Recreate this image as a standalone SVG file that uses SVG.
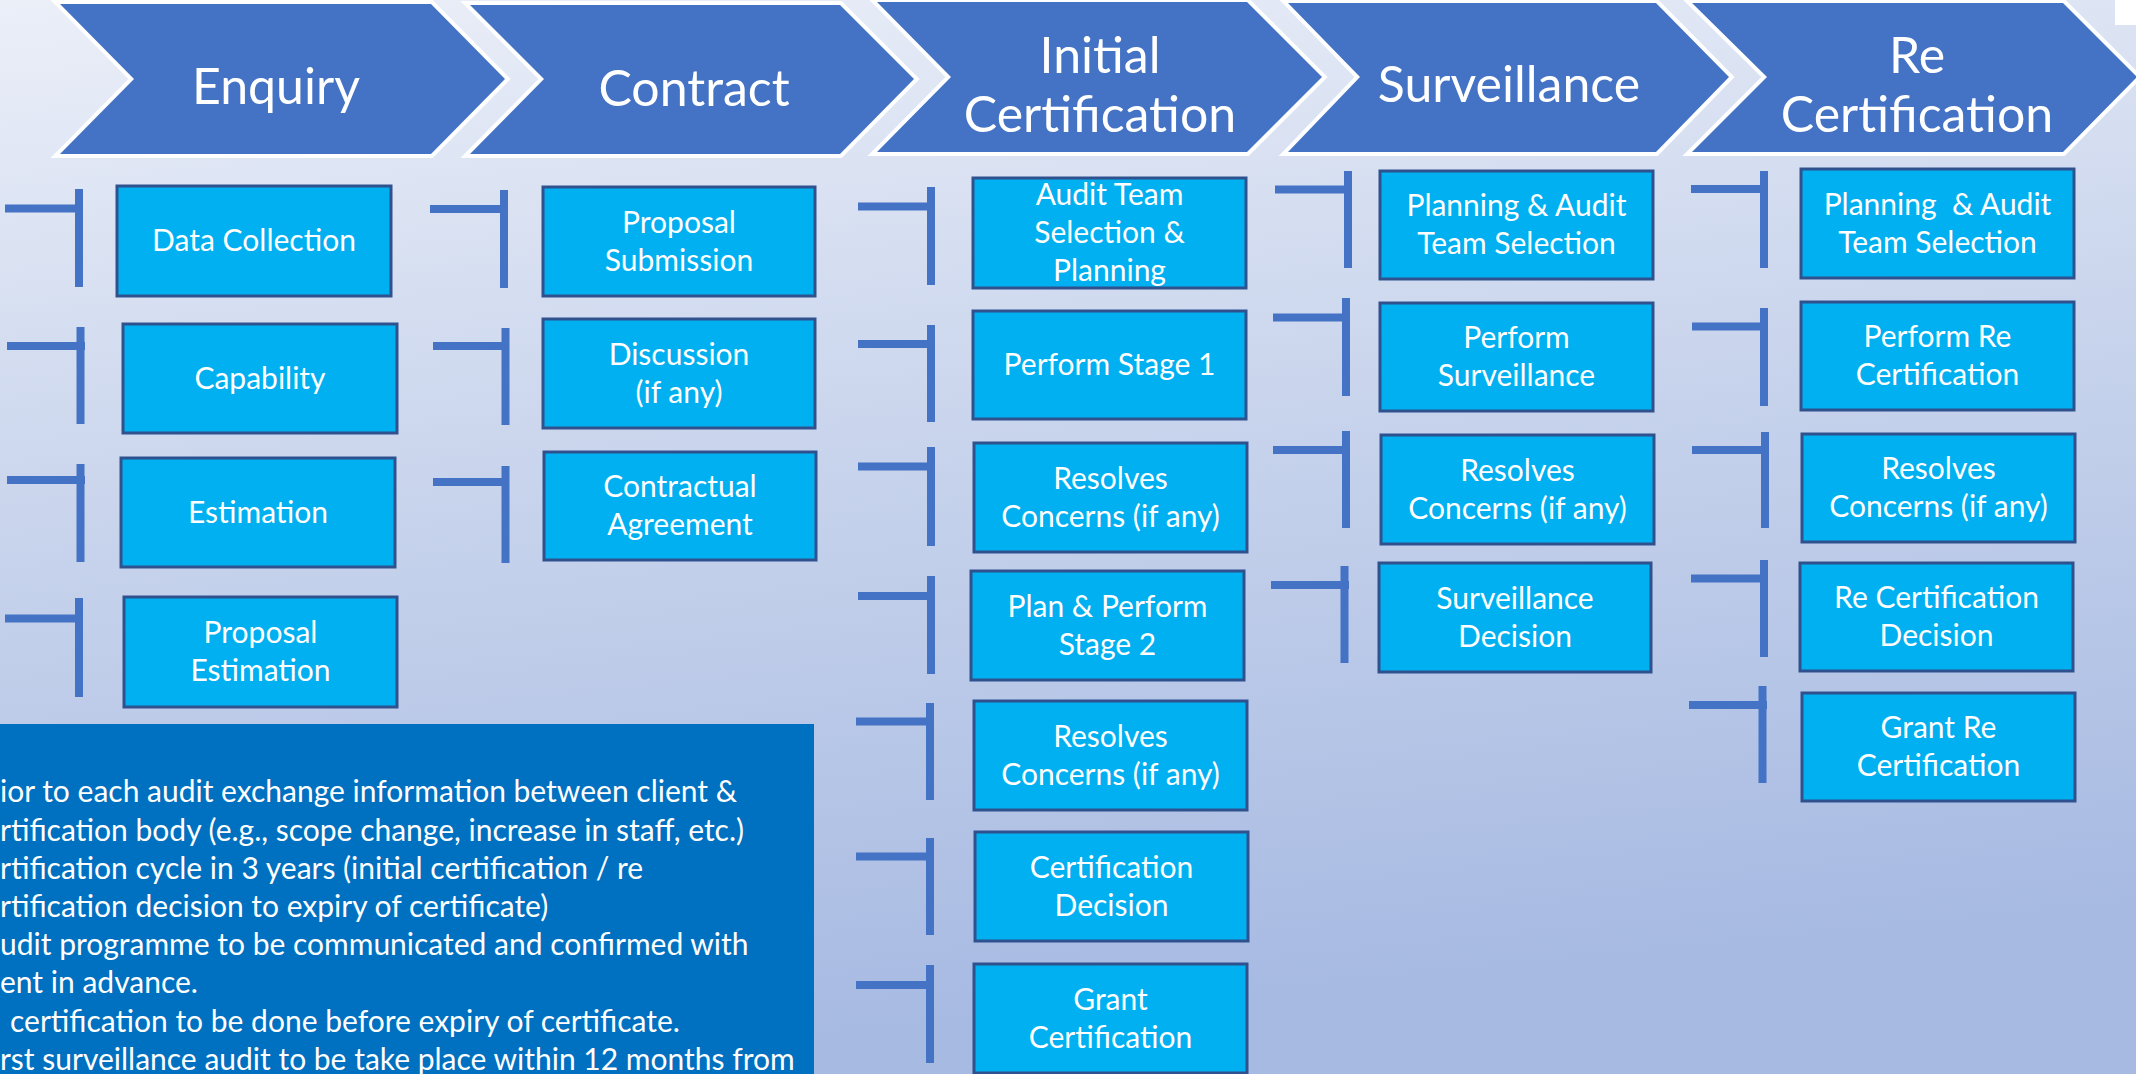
<svg xmlns="http://www.w3.org/2000/svg" width="2136" height="1074" viewBox="0 0 2136 1074">
<defs>
<linearGradient id="bg" x1="0" y1="0" x2="0.2" y2="1">
<stop offset="0" stop-color="#EBEFF8"/>
<stop offset="0.5" stop-color="#C7D3EC"/>
<stop offset="1" stop-color="#A7BAE2"/>
</linearGradient>
<style>
.chev{fill:#4472C4;stroke:#FFFFFF;stroke-width:8;stroke-linejoin:miter;paint-order:stroke}
.box{fill:#00B0F0;stroke:#2F528F;stroke-width:3}
.title{font-family:Lato,"Liberation Sans",sans-serif;font-size:50px;fill:#FFFFFF;text-anchor:middle}
.lbl{font-family:Lato,"Liberation Sans",sans-serif;font-size:30px;fill:#FFFFFF;text-anchor:middle}
.note{font-family:Lato,"Liberation Sans",sans-serif;font-size:30px;fill:#FFFFFF}
.br{stroke:#4472C4;stroke-width:8;fill:none}
</style>
</defs>
<rect x="0" y="0" width="2136" height="1074" fill="url(#bg)"/>
<rect x="2115" y="0" width="21" height="25" fill="#FFFFFF"/>

<g id="stage-enquiry">
<polygon class="chev" points="60,4 431,4 505,79 431,154 60,154 134,79"/>
<text class="title" x="276" y="104">Enquiry</text>
</g>
<g id="stage-contract">
<polygon class="chev" points="470,5 840,5 914,79 840,154 470,154 544,79"/>
<text class="title" x="694" y="106">Contract</text>
</g>
<g id="stage-initial">
<polygon class="chev" points="877,2 1247,2 1322,77 1247,152 877,152 951,77"/>
<text class="title" x="1100" y="73">Initial</text>
<text class="title" x="1100" y="132">Certification</text>
</g>
<g id="stage-surveillance">
<polygon class="chev" points="1288,3 1656,3 1729,77 1656,152 1288,152 1360,77"/>
<text class="title" x="1509" y="102">Surveillance</text>
</g>
<g id="stage-recert">
<polygon class="chev" points="1692,3 2063,3 2137,77 2063,152 1692,152 1767,77"/>
<text class="title" x="1917" y="73">Re</text>
<text class="title" x="1917" y="132">Certification</text>
</g>

<g id="connectors">
<path class="br" d="M5 208.5H83M79 189V287"/>
<path class="br" d="M7 346H85M80.5 327V424"/>
<path class="br" d="M7 480H85M80.5 464V562"/>
<path class="br" d="M5 618.5H83M79 598V697"/>
<path class="br" d="M430 209H508M504 190V288"/>
<path class="br" d="M433 346H509M505.5 328V425"/>
<path class="br" d="M433 482H509M505.5 466V563"/>
<path class="br" d="M858 206.5H935M931 187V285"/>
<path class="br" d="M858 344H935M931 325V422"/>
<path class="br" d="M858 466.5H935M931 447V546"/>
<path class="br" d="M858 596H935M931 576V674"/>
<path class="br" d="M856 721.5H934M930 703V800"/>
<path class="br" d="M856 856.5H934M930 838V935"/>
<path class="br" d="M856 985H934M930 965V1063"/>
<path class="br" d="M1275 189.5H1352M1348 171V268"/>
<path class="br" d="M1273 317.5H1350M1346 298V396"/>
<path class="br" d="M1273 450H1350M1346 431V528"/>
<path class="br" d="M1271 585H1349M1344.5 566V663"/>
<path class="br" d="M1691 189H1768M1764 171V268"/>
<path class="br" d="M1692 326.5H1768M1764 308V406"/>
<path class="br" d="M1692 450H1769M1765 432V528"/>
<path class="br" d="M1691 578.5H1768M1764 560V657"/>
<path class="br" d="M1689 705H1767M1762.5 686V783"/>
</g>

<g id="data-collection">
<rect class="box" x="117" y="186" width="274" height="110"/>
<text class="lbl" x="254" y="251">Data Collection</text>
</g>
<g id="capability">
<rect class="box" x="123" y="324" width="274" height="109"/>
<text class="lbl" x="260" y="388.5">Capability</text>
</g>
<g id="estimation">
<rect class="box" x="121" y="458" width="274" height="109"/>
<text class="lbl" x="258" y="522.5">Estimation</text>
</g>
<g id="proposal-estimation">
<rect class="box" x="124" y="597" width="273" height="110"/>
<text class="lbl" x="260.5" y="643">Proposal</text>
<text class="lbl" x="260.5" y="681">Estimation</text>
</g>

<g id="proposal-submission">
<rect class="box" x="543" y="187" width="272" height="109"/>
<text class="lbl" x="679" y="232.5">Proposal</text>
<text class="lbl" x="679" y="271">Submission</text>
</g>
<g id="discussion">
<rect class="box" x="543" y="319" width="272" height="109"/>
<text class="lbl" x="679" y="364.5">Discussion</text>
<text class="lbl" x="679" y="403">(if any)</text>
</g>
<g id="contractual-agreement">
<rect class="box" x="544" y="452" width="272" height="108"/>
<text class="lbl" x="680" y="497">Contractual</text>
<text class="lbl" x="680" y="535">Agreement</text>
</g>

<g id="audit-team-selection">
<rect class="box" x="973" y="178" width="273" height="110"/>
<text class="lbl" x="1109.5" y="205">Audit Team</text>
<text class="lbl" x="1109.5" y="243">Selection &amp;</text>
<text class="lbl" x="1109.5" y="281">Planning</text>
</g>
<g id="perform-stage1">
<rect class="box" x="973" y="311" width="273" height="108"/>
<text class="lbl" x="1109.5" y="375">Perform Stage 1</text>
</g>
<g id="resolves-1">
<rect class="box" x="974" y="443" width="273" height="109"/>
<text class="lbl" x="1110.5" y="488.5">Resolves</text>
<text class="lbl" x="1110.5" y="527">Concerns (if any)</text>
</g>
<g id="plan-perform-stage2">
<rect class="box" x="971" y="571" width="273" height="109"/>
<text class="lbl" x="1107.5" y="616.5">Plan &amp; Perform</text>
<text class="lbl" x="1107.5" y="655">Stage 2</text>
</g>
<g id="resolves-2">
<rect class="box" x="974" y="701" width="273" height="109"/>
<text class="lbl" x="1110.5" y="746.5">Resolves</text>
<text class="lbl" x="1110.5" y="785">Concerns (if any)</text>
</g>
<g id="certification-decision">
<rect class="box" x="975" y="832" width="273" height="109"/>
<text class="lbl" x="1111.5" y="877.5">Certification</text>
<text class="lbl" x="1111.5" y="916">Decision</text>
</g>
<g id="grant-certification">
<rect class="box" x="974" y="964" width="273" height="109"/>
<text class="lbl" x="1110.5" y="1009.5">Grant</text>
<text class="lbl" x="1110.5" y="1048">Certification</text>
</g>

<g id="surv-planning">
<rect class="box" x="1380" y="171" width="273" height="108"/>
<text class="lbl" x="1516.5" y="216">Planning &amp; Audit</text>
<text class="lbl" x="1516.5" y="254">Team Selection</text>
</g>
<g id="perform-surveillance">
<rect class="box" x="1380" y="303" width="273" height="108"/>
<text class="lbl" x="1516.5" y="348">Perform</text>
<text class="lbl" x="1516.5" y="386">Surveillance</text>
</g>
<g id="surv-resolves">
<rect class="box" x="1381" y="435" width="273" height="109"/>
<text class="lbl" x="1517.5" y="480.5">Resolves</text>
<text class="lbl" x="1517.5" y="519">Concerns (if any)</text>
</g>
<g id="surveillance-decision">
<rect class="box" x="1379" y="563" width="272" height="109"/>
<text class="lbl" x="1515" y="608.5">Surveillance</text>
<text class="lbl" x="1515" y="647">Decision</text>
</g>

<g id="recert-planning">
<rect class="box" x="1801" y="169" width="273" height="109"/>
<text class="lbl" x="1937.5" y="214.5" xml:space="preserve">Planning  &amp; Audit</text>
<text class="lbl" x="1937.5" y="253">Team Selection</text>
</g>
<g id="perform-recert">
<rect class="box" x="1801" y="302" width="273" height="108"/>
<text class="lbl" x="1937.5" y="347">Perform Re</text>
<text class="lbl" x="1937.5" y="385">Certification</text>
</g>
<g id="recert-resolves">
<rect class="box" x="1802" y="434" width="273" height="108"/>
<text class="lbl" x="1938.5" y="479">Resolves</text>
<text class="lbl" x="1938.5" y="517">Concerns (if any)</text>
</g>
<g id="recert-decision">
<rect class="box" x="1800" y="563" width="273" height="108"/>
<text class="lbl" x="1936.5" y="608">Re Certification</text>
<text class="lbl" x="1936.5" y="646">Decision</text>
</g>
<g id="grant-recert">
<rect class="box" x="1802" y="693" width="273" height="108"/>
<text class="lbl" x="1938.5" y="738">Grant Re</text>
<text class="lbl" x="1938.5" y="776">Certification</text>
</g>

<g id="notes">
<rect x="0" y="724" width="814" height="350" fill="#0070C0"/>
<text class="note" x="0" y="802">ior to each audit exchange information between client &amp;</text>
<text class="note" x="0" y="841">rtification body (e.g., scope change, increase in staff, etc.)</text>
<text class="note" x="0" y="879">rtification cycle in 3 years (initial certification / re</text>
<text class="note" x="0" y="917">rtification decision to expiry of certificate)</text>
<text class="note" x="0" y="955">udit programme to be communicated and confirmed with</text>
<text class="note" x="0" y="993">ent in advance.</text>
<text class="note" x="10" y="1032">certification to be done before expiry of certificate.</text>
<text class="note" x="0" y="1070">rst surveillance audit to be take place within 12 months from</text>
</g>
</svg>
